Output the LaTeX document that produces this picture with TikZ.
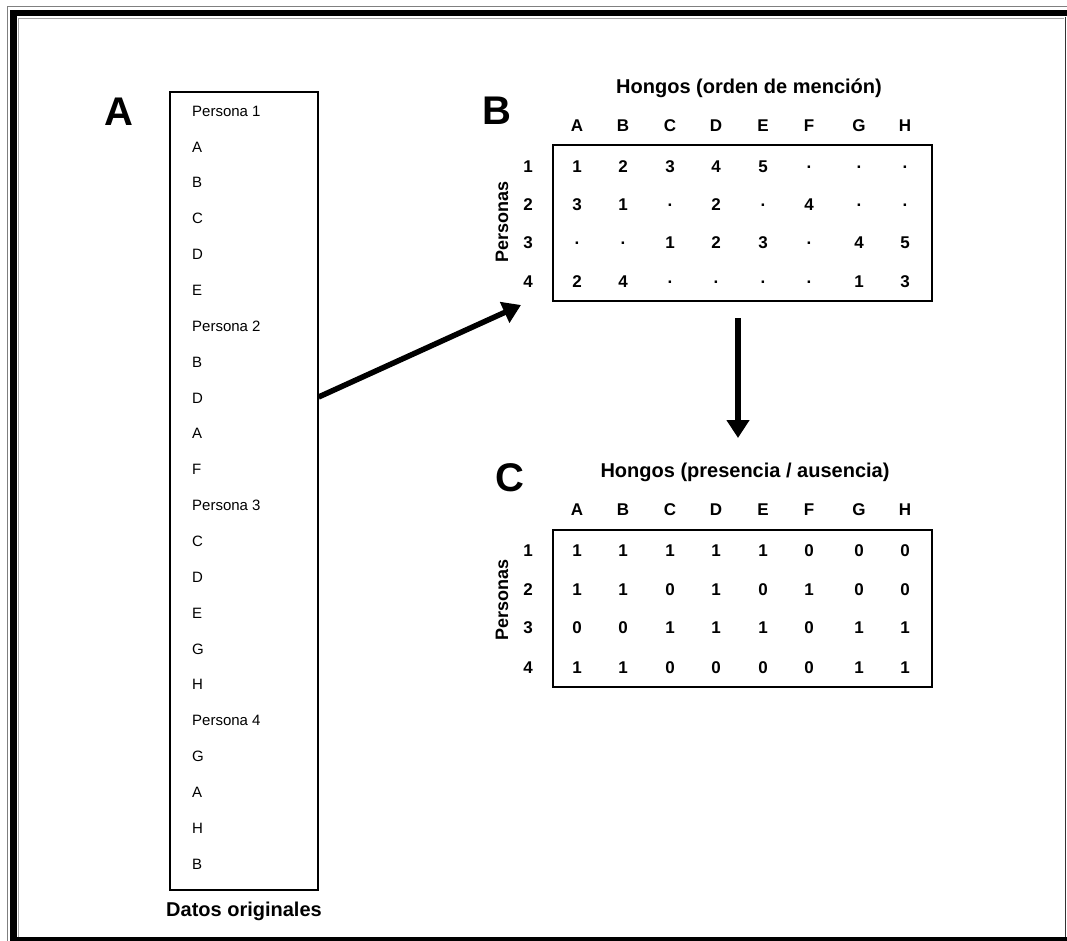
\documentclass[tikz,border=0pt]{standalone}
\usepackage{fontspec}
\setmainfont{Liberation Sans}
\usetikzlibrary{arrows.meta}
\begin{document}
\begin{tikzpicture}[x=1pt,y=-1pt,
  big/.style={font=\fontsize{40}{40}\selectfont\bfseries, inner sep=0pt},
  item/.style={font=\fontsize{15}{15}\selectfont, anchor=west, inner sep=0pt},
  ttl/.style={font=\fontsize{20}{20}\selectfont\bfseries, inner sep=0pt},
  cell/.style={font=\fontsize{17}{17}\selectfont\bfseries, inner sep=0pt},
  lbl/.style={font=\fontsize{18}{18}\selectfont\bfseries, inner sep=0pt, rotate=90},
  tbl/.style={draw=black, line width=1.2pt},
  bigarrow/.style={line width=5.5pt, -{Triangle[length=18pt,width=22pt]}}
]
\useasboundingbox (0,0) rectangle (1067,941);
\fill[white] (0,0) rectangle (1067,941);
% window frame
\draw[gray, line width=1pt] (7,941) -- (7,7) -- (1067,7);
\fill[black] (10,941) rectangle (16.5,10);
\fill[black] (10,10) rectangle (1067,16.5);
\draw[gray!70, line width=0.8pt] (18,937) -- (18,18) -- (1064,18);
\draw[black!80, line width=1.8pt] (1065.5,17) -- (1065.5,937);
\fill[black] (10,936.5) rectangle (1067,941);

% Panel A
\node[big] (labA) at (119,112) {A};
\node[draw=black, line width=1.2pt, minimum width=148pt, minimum height=798pt, inner sep=0pt] (list) at (244,491) {};
\foreach \t [count=\i from 0] in {Persona 1,A,B,C,D,E,Persona 2,B,D,A,F,Persona 3,C,D,E,G,H,Persona 4,G,A,H,B}{
  \node[item] (it\i) at (192,{111+\i*35.86}) {\t};
}
\node[ttl] (datos) at (244,911) {Datos originales};

% Panel B
\node[big] (labB) at (497,111) {B};
\node[ttl] (titB) at (749,88) {Hongos (orden de mención)};
\node[tbl, minimum width=379pt, minimum height=156pt, inner sep=0pt] (tabB) at (742.5,223) {};
\foreach \c/\x in {A/577,B/623,C/670,D/716,E/763,F/809,G/859,H/905}{
  \node[cell] (hb\c) at (\x,126) {\c};
}
\foreach \r/\y in {1/167,2/205,3/243,4/282}{
  \node[cell] (rb\r) at (528,\y) {\r};
}
\node[lbl] (persB) at (502,222) {Personas};
\foreach \row/\y/\vals in {1/167/{1,2,3,4,5,.,.,.},2/205/{3,1,.,2,.,4,.,.},3/243/{.,.,1,2,3,.,4,5},4/282/{2,4,.,.,.,.,1,3}}{
  \foreach \v [count=\j] in \vals {
    \pgfmathsetmacro{\xx}{{577,623,670,716,763,809,859,905}[\j-1]}
    \node[cell] (b\row-\j) at (\xx,\y) {\v};
  }
}

% Panel C
\node[big] (labC) at (510,478) {C};
\node[ttl] (titC) at (745,472) {Hongos (presencia / ausencia)};
\node[tbl, minimum width=379pt, minimum height=157pt, inner sep=0pt] (tabC) at (742.5,608.5) {};
\foreach \c/\x in {A/577,B/623,C/670,D/716,E/763,F/809,G/859,H/905}{
  \node[cell] (hc\c) at (\x,510) {\c};
}
\foreach \r/\y in {1/551,2/590,3/628,4/668}{
  \node[cell] (rc\r) at (528,\y) {\r};
}
\node[lbl] (persC) at (502,600) {Personas};
\foreach \row/\y/\vals in {1/551/{1,1,1,1,1,0,0,0},2/590/{1,1,0,1,0,1,0,0},3/628/{0,0,1,1,1,0,1,1},4/668/{1,1,0,0,0,0,1,1}}{
  \foreach \v [count=\j] in \vals {
    \pgfmathsetmacro{\xx}{{577,623,670,716,763,809,859,905}[\j-1]}
    \node[cell] (c\row-\j) at (\xx,\y) {\v};
  }
}

% Arrows
\coordinate (aStart) at (list.east |- 0,397);
\coordinate (aEnd) at (521,305);
\draw[bigarrow] (aStart) -- (aEnd);
\coordinate (dStart) at (738,318);
\coordinate (dEnd) at (738,438);
\draw[bigarrow] (dStart) -- (dEnd);
\end{tikzpicture}
\end{document}
